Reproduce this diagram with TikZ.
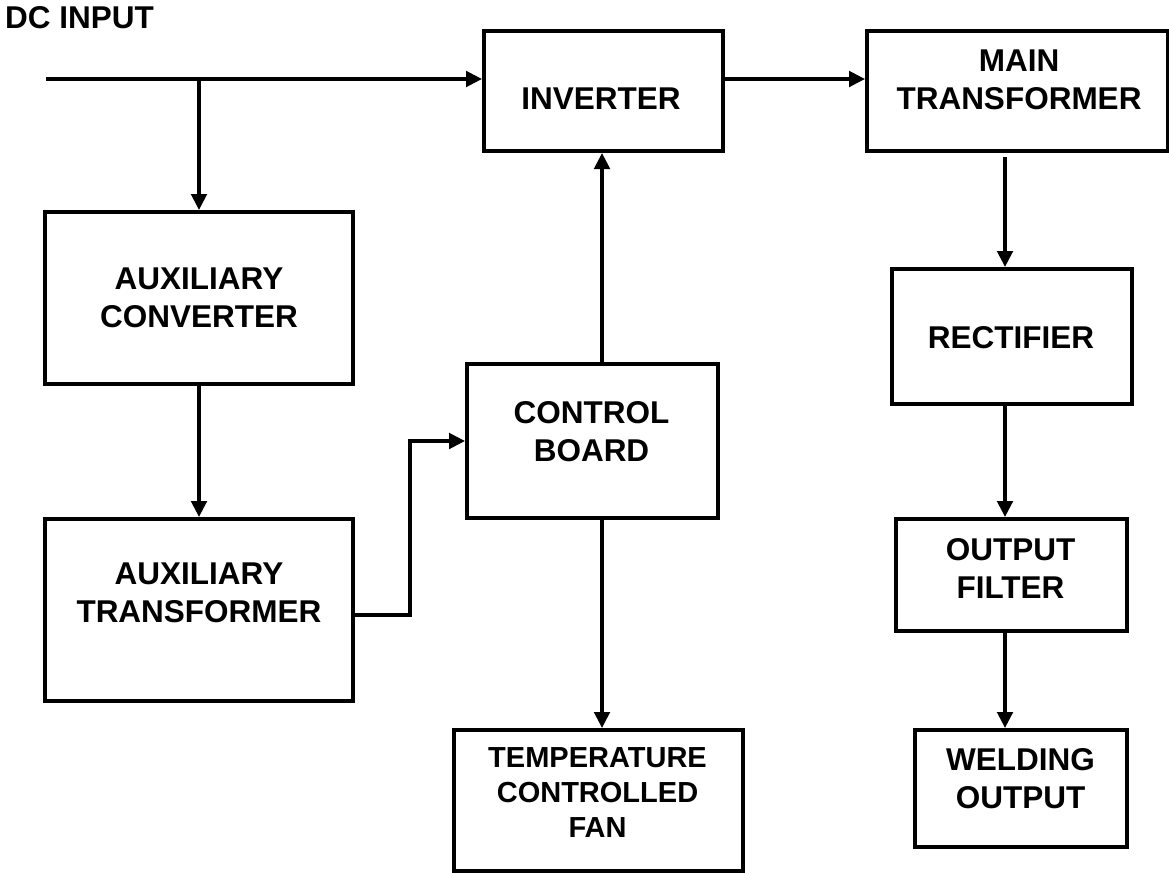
\documentclass[tikz,border=0pt]{standalone}
\usepackage{fontspec}
\setmainfont{Liberation Sans}
\usetikzlibrary{arrows.meta,calc}
\begin{document}
\begin{tikzpicture}[x=1pt,y=-1pt,
  blk/.style={draw=black,line width=4pt,fill=white,inner sep=0pt},
  lbl/.style={inner sep=0pt,align=center,font=\fontsize{31.5}{38}\selectfont\bfseries},
  arr/.style={line width=3.5pt,-{Triangle[length=16pt,width=15.5pt]}},
  ln/.style={line width=3.5pt}]
\useasboundingbox (0,0) rectangle (1169,873);
% boxes (centre, size)
\node[blk,minimum width=239pt,minimum height=120pt] (inv) at (603.5,91) {};
\node[blk,minimum width=301pt,minimum height=120pt] (mt) at (1017.5,91) {};
\node[blk,minimum width=308pt,minimum height=172pt] (ac) at (199,298) {};
\node[blk,minimum width=308pt,minimum height=182pt] (at) at (199,610) {};
\node[blk,minimum width=251pt,minimum height=154pt] (cb) at (592.5,441) {};
\node[blk,minimum width=240pt,minimum height=135pt] (rec) at (1012,336.5) {};
\node[blk,minimum width=231pt,minimum height=112pt] (of) at (1011.5,575) {};
\node[blk,minimum width=212pt,minimum height=117pt] (wo) at (1021,788.5) {};
\node[blk,minimum width=289pt,minimum height=141pt] (fan) at (598.5,800.5) {};
% labels
\node[lbl,anchor=west] (dct) at (5,18) {DC INPUT};
\node[lbl] (invt) at (601,99) {INVERTER};
\node[lbl] (mtt) at (1019,79.5) {MAIN\\TRANSFORMER};
\node[lbl] (act) at (199,298) {AUXILIARY\\CONVERTER};
\node[lbl] (att) at (199,593) {AUXILIARY\\TRANSFORMER};
\node[lbl] (cbt) at (591.5,432) {CONTROL\\BOARD};
\node[lbl] (rect) at (1011,337.5) {RECTIFIER};
\node[lbl] (oft) at (1010.5,568.5) {OUTPUT\\FILTER};
\node[lbl] (wot) at (1020.5,779) {WELDING\\OUTPUT};
\node[lbl,font=\fontsize{29}{35}\selectfont\bfseries] (fant) at (597.5,792.5) {TEMPERATURE\\CONTROLLED\\FAN};
% helper coordinates
\coordinate (dcin) at (46,79);
\coordinate (br) at (199,79);
\coordinate (colc) at (602,0);
\coordinate (colr) at (1005,0);
\coordinate (elb) at (410,615);
% connectors
\draw[arr] (dcin) -- (dcin -| inv.west);
\draw[arr] (br) -- (ac.north);
\draw[arr] ([yshift=12pt]inv.east) -- ([yshift=12pt]mt.west);
\draw[arr] (ac.south) -- (at.north);
\draw[arr] ([yshift=-5pt]at.east) -- (elb) |- (cb.west);
\draw[arr] (cb.north -| colc) -- (inv.south -| colc);
\draw[arr] (cb.south -| colc) -- (fan.north -| colc);
\draw[arr] ([yshift=-4pt]mt.south -| colr) -- (rec.north -| colr);
\draw[arr] (rec.south -| colr) -- (of.north -| colr);
\draw[arr] (of.south -| colr) -- (wo.north -| colr);
\end{tikzpicture}
\end{document}
